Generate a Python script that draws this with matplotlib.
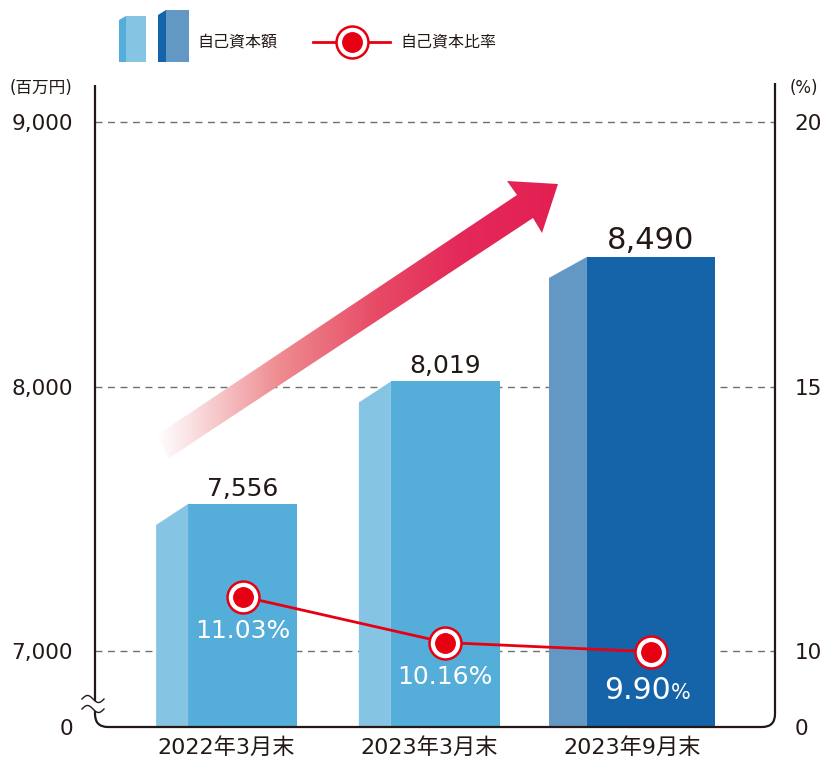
import numpy as np
import matplotlib
matplotlib.use("Agg")
import matplotlib.pyplot as plt
from matplotlib.path import Path
from matplotlib.patches import PathPatch, Polygon, Rectangle
from matplotlib.colors import LinearSegmentedColormap

# ---------------- data ----------------
categories = ["2022年3月末", "2023年3月末", "2023年9月末"]
equity = [7556, 8019, 8490]                 # 自己資本額 (百万円)
equity_labels = ["7,556", "8,019", "8,490"]
ratio = [11.03, 10.16, 9.90]                # 自己資本比率 (%)
ratio_labels = ["11.03", "10.16", "9.90"]
left_ticks = [0, 7000, 8000, 9000]
left_ticklabels = ["0", "7,000", "8,000", "9,000"]
right_ticks = [0, 10, 15, 20]
right_ticklabels = ["0", "10", "15", "20"]
legend_labels = ["自己資本額", "自己資本比率"]
unit_left = "(百万円)"
unit_right = "(%)"

# ---------------- style ----------------
plt.rcParams["font.family"] = ["DejaVu Sans", "Noto Sans CJK JP"]
TXT = "#231815"
RED = "#E60012"
front_cols = ["#55ADD9", "#55ADD9", "#1563A9"]
side_cols = ["#86C4E3", "#86C4E3", "#6397C4"]
widths = [0.695, 0.695, 0.819]
side_w = [0.158, 0.158, 0.187]
label_sizes = [18, 18, 22]

W, H = 824, 762
fig = plt.figure(figsize=(W / 100, H / 100), dpi=100)
L, R, B, T = 95, 775, 727, 85
ax = fig.add_axes([L / W, 1 - B / H, (R - L) / W, (B - T) / H])

BRK = 0.2873  # position (in units of 1000) of 0 below the 7,000 line


def fwd_l(v):
    v = np.asarray(v, float)
    return np.where(v >= 7000, (v - 7000) / 1000.0, (v / 7000.0 - 1) * BRK)


def inv_l(p):
    p = np.asarray(p, float)
    return np.where(p >= 0, p * 1000.0 + 7000, (p / BRK + 1) * 7000.0)


def fwd_r(r):
    r = np.asarray(r, float)
    return np.where(r >= 10, (r - 10) / 5.0, (r / 10.0 - 1) * BRK)


def inv_r(p):
    p = np.asarray(p, float)
    return np.where(p >= 0, p * 5.0 + 10, (p / BRK + 1) * 10.0)


ax.set_yscale("function", functions=(fwd_l, inv_l))
ax.set_ylim(0, 9140)
ax.set_xlim(-0.649, 2.705)
for s in ax.spines.values():
    s.set_visible(False)

x = np.arange(len(categories))

# grid lines
for t in left_ticks[1:]:
    ax.axhline(t, color="#6f6f6f", lw=1.0, ls=(0, (5, 4)), zorder=0.5)

# bars (front faces + slanted side faces)
drop = 0.0794
front_x = []
for i, v in enumerate(equity):
    x0 = x[i] - widths[i] / 2
    xs = x0 + side_w[i]
    fw = widths[i] - side_w[i]
    ax.bar(xs, v, width=fw, align="edge", color=front_cols[i], zorder=2, lw=0)
    vtop = float(inv_l(fwd_l(v) - drop))
    ax.fill([x0, x0, xs, xs], [0, vtop, v, 0], color=side_cols[i], lw=0, zorder=2)
    fc = xs + fw / 2
    front_x.append(fc)
    ax.annotate(equity_labels[i], (fc, v), xytext=(0, 6), textcoords="offset points",
                ha="center", va="baseline", fontsize=label_sizes[i], color=TXT, zorder=5)

ax.set_yticks(left_ticks, left_ticklabels)
ax.tick_params(axis="y", length=0, pad=16, labelsize=15.5, labelcolor=TXT)
ax.set_xticks(x, categories)
ax.tick_params(axis="x", length=0, pad=7, labelsize=16, labelcolor=TXT)

# ratio line on secondary axis
ax2 = ax.twinx()
ax2.set_yscale("function", functions=(fwd_r, inv_r))
ax2.set_ylim(0, 20.70)
for s in ax2.spines.values():
    s.set_visible(False)
ax2.set_yticks(right_ticks, right_ticklabels)
ax2.tick_params(axis="y", length=0, pad=14, labelsize=15.5, labelcolor=TXT)
ax2.plot(front_x, ratio, color=RED, lw=2, zorder=3)
ax2.plot(front_x, ratio, ls="none", marker="o", ms=23, mfc="white", mec=RED, mew=1.8, zorder=4)
ax2.plot(front_x, ratio, ls="none", marker="o", ms=14, mfc=RED, mec=RED, zorder=5)
for i, r in enumerate(ratio):
    if i < 2:
        ax2.annotate(ratio_labels[i] + "%", (front_x[i], r), xytext=(0, -25),
                     textcoords="offset points", ha="center", va="center",
                     fontsize=18, color="white", zorder=6)
    else:
        ax2.annotate(ratio_labels[i], (front_x[i], r), xytext=(14, -28),
                     textcoords="offset points", ha="right", va="center",
                     fontsize=21.5, color="white", zorder=6)
        ax2.annotate("%", (front_x[i], r), xytext=(14, -30),
                     textcoords="offset points", ha="left", va="center",
                     fontsize=15, color="white", zorder=6)

# ---------------- overlay (pixel coords) for decorations ----------------
ov = fig.add_axes([0, 0, 1, 1], zorder=10)
ov.patch.set_alpha(0)
ov.axis("off")

# gradient arrow
arrow = [(157, 435), (517, 195), (507, 181), (558, 184), (542, 233), (533, 218), (169, 458)]
cmap = LinearSegmentedColormap.from_list("arr", [
    (0.0, "#FFFFFF"), (0.08, "#FBE2E3"), (0.3, "#EE8D92"), (0.55, "#E74A65"),
    (0.75, "#E42A5A"), (1.0, "#E31F52")])
grad = np.linspace(0, 1, 256)[None, :]
im = ov.imshow(grad, extent=(157, 558, 458, 181), cmap=cmap, aspect="auto", zorder=1)
poly = Polygon(arrow, closed=True, transform=ov.transData, fc="none", ec="none")
ov.add_patch(poly)
im.set_clip_path(poly)

# rounded frame
rr = 13
verts = [(L, T), (L, B - rr), (L, B), (L + rr, B), (R - rr, B), (R, B), (R, B - rr), (R, T - 2)]
codes = [Path.MOVETO, Path.LINETO, Path.CURVE3, Path.CURVE3, Path.LINETO, Path.CURVE3, Path.CURVE3, Path.LINETO]
ov.add_patch(PathPatch(Path(verts, codes), fc="none", ec=TXT, lw=1.6, zorder=3))

# axis break marks
wx = np.linspace(82, 104, 60)
w1 = 699 - 3.5 * np.sin(2 * np.pi * (wx - 82) / 22)
w2 = w1 + 10
ov.fill_between(wx, w1, w2, color="white", lw=0, zorder=4)
ov.plot(wx, w1, color=TXT, lw=1, zorder=5)
ov.plot(wx, w2, color=TXT, lw=1, zorder=5)

# legend
ov.add_patch(Polygon([(119, 62), (119, 20), (126, 16), (126, 62)], fc=front_cols[0], ec="none"))
ov.add_patch(Rectangle((126, 16), 20, 46, fc=side_cols[0], ec="none"))
ov.add_patch(Polygon([(158, 62), (158, 15), (166, 10), (166, 62)], fc=front_cols[2], ec="none"))
ov.add_patch(Rectangle((166, 10), 23, 52, fc=side_cols[2], ec="none"))
ov.text(197, 42, legend_labels[0], fontsize=11.5, color=TXT, va="center", ha="left")
ov.plot([313, 390], [42, 42], color=RED, lw=2, zorder=3)
ov.plot([352], [42], marker="o", ms=23, mfc="white", mec=RED, mew=1.8, zorder=4)
ov.plot([352], [42], marker="o", ms=14, mfc=RED, mec=RED, zorder=5)
ov.text(400, 42, legend_labels[1], fontsize=11.5, color=TXT, va="center", ha="left")

# unit labels
ov.text(10, 88, unit_left, fontsize=12, color=TXT, va="center", ha="left")
ov.text(790, 88, unit_right, fontsize=12, color=TXT, va="center", ha="left")

ov.set_xlim(0, W)
ov.set_ylim(H, 0)

fig.savefig("out.png", dpi=100)
